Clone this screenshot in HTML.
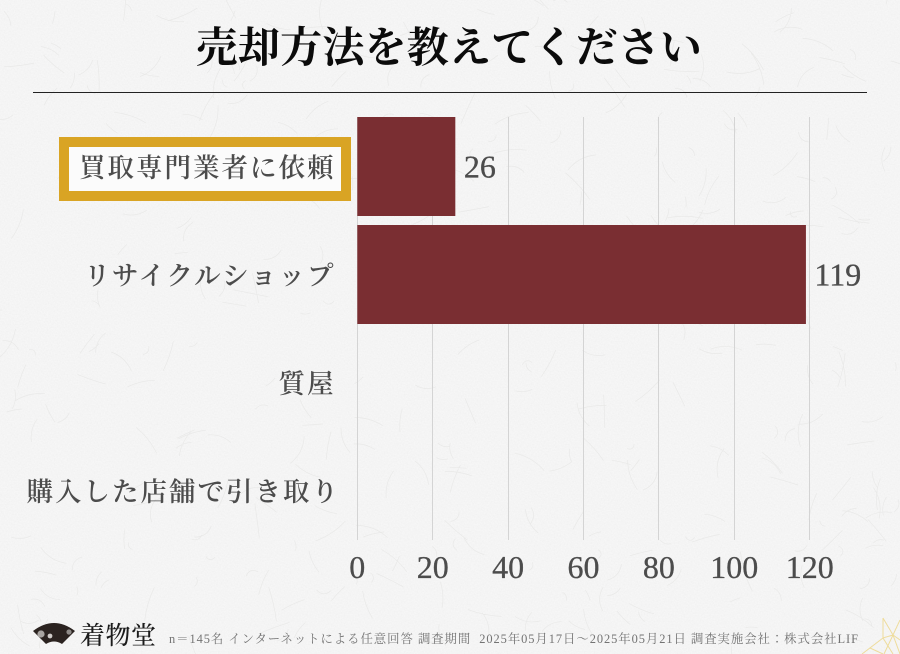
<!DOCTYPE html>
<html lang="ja">
<head>
<meta charset="utf-8">
<title>売却方法を教えてください</title>
<style>
html,body{margin:0;padding:0;background:#f4f4f4;}
#stage{position:relative;width:900px;height:654px;overflow:hidden;background:#f4f4f4;}
svg{position:absolute;left:0;top:0;display:block;}
text{font-family:"Liberation Serif","Noto Serif CJK JP","Noto Serif CJK SC",serif;}
.cjk{font-family:"Noto Serif CJK JP","Noto Serif CJK SC",serif;}
</style>
</head>
<body>
<div id="stage">
<svg id="chart" width="900" height="654" viewBox="0 0 900 654" xmlns="http://www.w3.org/2000/svg">
  <defs>
    <filter id="paper" x="0" y="0" width="100%" height="100%">
      <feTurbulence type="fractalNoise" baseFrequency="0.7" numOctaves="3" seed="7"/>
      <feColorMatrix type="matrix" values="0 0 0 0 0.6  0 0 0 0 0.6  0 0 0 0 0.6  0.6 0 0 0 -0.2"/>
    </filter>
  </defs>
  <rect width="900" height="654" fill="#f6f6f6"/>
  <rect width="900" height="654" filter="url(#paper)" opacity="0.4"/>
  <g id="fibres" fill="none" stroke="#e9e9e8" stroke-width="0.7"></g>

  <text x="449" y="62" text-anchor="middle" class="cjk" font-size="42" letter-spacing="0.2" font-weight="700" fill="#0b0b0b">売却方法を教えてください</text>
  <rect x="33" y="92" width="834" height="1" fill="#222222"/>

  <g id="grid"></g>
  <g id="bars"></g>
  <g id="ticks"></g>
  <g id="highlight"></g>
  <g id="categories"></g>
  <g id="values"></g>

  <g>
    <path d="M33 631 Q54 615 75 631 L62 644 Q54 639 46 644 Z" fill="#2b2320"/>
    <circle cx="41" cy="634" r="3.6" fill="#a9a5a2"/>
    <circle cx="50" cy="636" r="2.4" fill="#cfcbc8"/>
    <circle cx="69" cy="632" r="2.6" fill="#8f8b88"/>
    <text x="80" y="644" class="cjk" font-size="25" letter-spacing="0.5" font-weight="500" fill="#1c1c1c">着物堂</text>
  </g>

  <text x="169" y="643" font-size="12.4" fill="#737373" textLength="689" lengthAdjust="spacing">n＝145名 インターネットによる任意回答 調査期間&#160;&#160;2025年05月17日～2025年05月21日 調査実施会社：株式会社LIF</text>

  <g fill="none" stroke="#eedc9c" stroke-width="1">
    <path d="M883 618L893 635L900 620M883 618L883 638L893 635L900 640M893 635L900 654M883 638L862 654M883 638L893 654M893 635L884 654M870 648L883 654"/>
  </g>
</svg>
</div>
<script>
const categories = ['買取専門業者に依頼', 'リサイクルショップ', '質屋', '購入した店舗で引き取り'];
const seriesValues = [26, 119, 0, 0];
const tickValues = [0, 20, 40, 60, 80, 100, 120];

const NS = 'http://www.w3.org/2000/svg';
const plot = { left: 357.3, top: 112.5, bandHeight: 108, barHeight: 99, pxPerUnit: 3.77, bottom: 540 };
function xScale(v) { return plot.left + v * plot.pxPerUnit; }
function bandCenter(i) { return plot.top + plot.bandHeight * (i + 0.5); }
function make(parent, tag, attrs, text) {
  const el = document.createElementNS(NS, tag);
  for (const k in attrs) el.setAttribute(k, attrs[k]);
  if (text !== undefined) el.textContent = text;
  parent.appendChild(el);
  return el;
}

const fibresG = document.getElementById('fibres');
let seed = 12345;
function rnd() { seed = (seed * 1103515245 + 12345) % 2147483648; return seed / 2147483648; }
let fibrePath = '';
for (let n = 0; n < 420; n++) {
  const fx = rnd() * 900, fy = rnd() * 654, a = rnd() * 6.283, len = 8 + rnd() * 28, bend = (rnd() - 0.5) * 14;
  const ex = fx + Math.cos(a) * len, ey = fy + Math.sin(a) * len;
  const cx = (fx + ex) / 2 - Math.sin(a) * bend, cy = (fy + ey) / 2 + Math.cos(a) * bend;
  fibrePath += 'M' + fx.toFixed(1) + ' ' + fy.toFixed(1) + 'Q' + cx.toFixed(1) + ' ' + cy.toFixed(1) + ' ' + ex.toFixed(1) + ' ' + ey.toFixed(1);
}
make(fibresG, 'path', { d: fibrePath });

const gridG = document.getElementById('grid');
const ticksG = document.getElementById('ticks');
tickValues.forEach(function (t) {
  const gx = Math.floor(xScale(t)) + 0.5;
  const line = make(gridG, 'line', { x1: gx, x2: gx, y1: 117, y2: plot.bottom, stroke: '#d4d4d4', 'stroke-width': 1 });
  
  
  const label = make(ticksG, 'text', { x: xScale(t), y: 578, 'text-anchor': 'middle', 'font-size': 32, fill: '#4c4c4c', stroke: '#4c4c4c', 'stroke-width': 0.3 }, String(t));
  
  
});

const barsG = document.getElementById('bars');
const valuesG = document.getElementById('values');
const catsG = document.getElementById('categories');
categories.forEach(function (name, i) {
  const v = seriesValues[i];
  const c = bandCenter(i);
  const labelRight = name.length > 9 ? 340 : 335.5;
  const catLabel = make(catsG, 'text', { x: labelRight, y: c + 10.5, 'text-anchor': 'end', 'font-size': 26.5, 'letter-spacing': 2, 'font-weight': 600, fill: '#4c4c4c', class: 'cjk' }, name);
  
  
  if (v > 0) {
    const bar = make(barsG, 'rect', { x: xScale(0), y: c - plot.barHeight / 2, width: xScale(v) - xScale(0), height: plot.barHeight, fill: '#7a2e32' });
    
    
    const val = make(valuesG, 'text', { x: xScale(v) + 8.5, y: c + 11, 'font-size': 32, fill: '#4c4c4c', stroke: '#4c4c4c', 'stroke-width': 0.3 }, String(v));
    
    
  }
});

const hlG = document.getElementById('highlight');
const hl = make(hlG, 'rect', { x: 64, y: 142, width: 282, height: 54, fill: '#fbfbfb', stroke: '#d9a424', 'stroke-width': 10 });


</script>
</body>
</html>
